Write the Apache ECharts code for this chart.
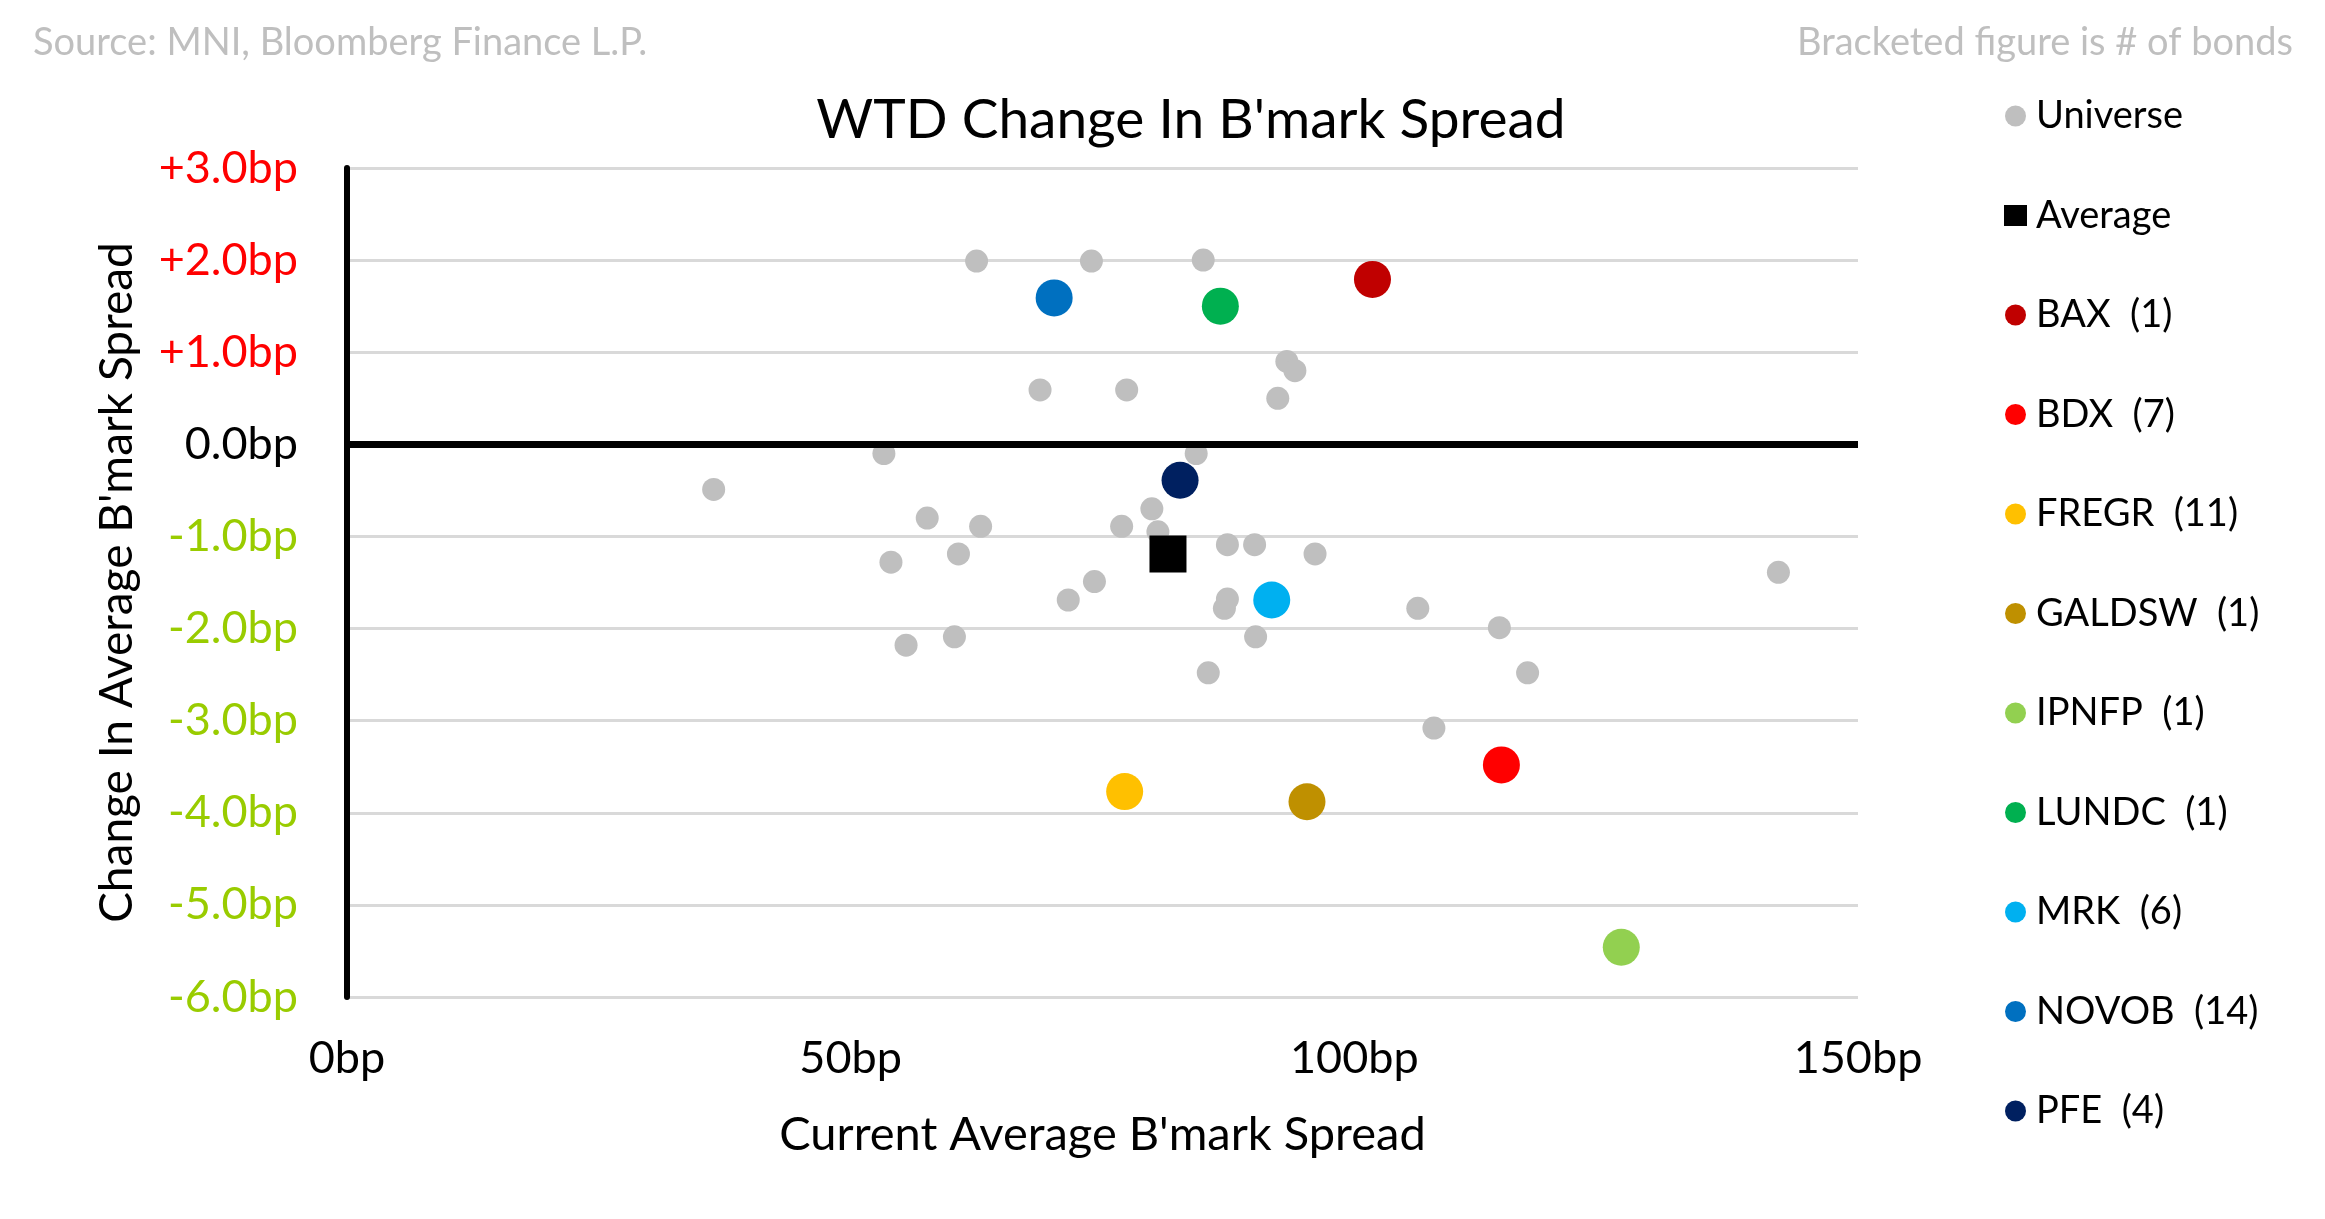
<!DOCTYPE html>
<html>
<head>
<meta charset="utf-8">
<script src="https://cdn.jsdelivr.net/npm/echarts@6/dist/echarts.min.js"></script>
<style>
html,body{margin:0;padding:0;background:#fff;}
#chart{width:2325px;height:1219px;}
</style>
</head>
<body>
<div id="chart"></div>
<script>
// ---- Data (x = current avg benchmark spread bp, y = WTD change bp) ----
const universe = [
  [36.4,-0.49],[53.3,-0.10],[54.0,-1.28],[55.5,-2.18],[57.6,-0.80],[60.3,-2.09],
  [60.7,-1.19],[62.5,1.99],[62.9,-0.89],[68.8,0.59],[71.6,-1.69],[73.9,1.99],
  [74.2,-1.49],[76.9,-0.89],[77.4,0.59],[79.9,-0.70],[80.5,-0.95],[84.3,-0.10],
  [85.0,2.00],[85.5,-2.48],[87.1,-1.78],[87.4,-1.68],[87.4,-1.09],[90.1,-1.09],
  [90.2,-2.09],[92.4,0.50],[93.3,0.90],[94.1,0.80],[96.1,-1.19],[106.3,-1.78],
  [107.9,-3.08],[114.4,-1.99],[117.2,-2.48],[142.1,-1.39]
];
const average = [[81.5,-1.19]];
const issuerNames = ['BAX  (1)','BDX  (7)','FREGR  (11)','GALDSW  (1)','IPNFP  (1)','LUNDC  (1)','MRK  (6)','NOVOB  (14)','PFE  (4)'];
const issuerPoints = [[101.8,1.79],[114.6,-3.48],[77.2,-3.77],[95.3,-3.88],[126.5,-5.46],[86.7,1.50],[91.8,-1.69],[70.2,1.59],[82.7,-0.39]];
const issuerColors = ['#c00000','#ff0000','#ffc000','#bf9000','#92d050','#00b050','#00b0f0','#0070c0','#002060'];
const xTicks = [0,50,100,150];
const yTicks = [-6,-5,-4,-3,-2,-1,0,1,2,3];

const FONT = 'Lato, "Open Sans", sans-serif';

const chart = echarts.init(document.getElementById('chart'));

const series = [
  {
    name: 'Universe', type: 'scatter', data: universe, symbol: 'circle', symbolSize: 23,
    itemStyle: {color: '#bfbfbf', opacity: 1}, z: 2,
    markLine: {
      silent: true, symbol: 'none', label: {show: false},
      lineStyle: {color: '#000', width: 7, type: 'solid'},
      emphasis: {disabled: true},
      data: [{yAxis: 0}]
    }
  },
  {
    name: 'Average', type: 'scatter', data: average, symbol: 'rect', symbolSize: 37,
    itemStyle: {color: '#000000', opacity: 1}, z: 3
  }
];
issuerNames.forEach((n, i) => {
  series.push({
    name: n, type: 'scatter', data: [issuerPoints[i]], symbol: 'circle', symbolSize: 37,
    itemStyle: {color: issuerColors[i], opacity: 1}, z: 4
  });
});

function yColor(v) {
  v = Number(v);
  if (v > 0) return '#ff0000';
  if (v < 0) return '#99cc00';
  return '#000000';
}

chart.setOption({
  backgroundColor: '#ffffff',
  animation: false,
  textStyle: {fontFamily: FONT},
  graphic: [
    {type: 'text', x: 1191, y: 120, style: {text: "WTD Change In B'mark Spread", textAlign: 'center', textVerticalAlign: 'middle',
      font: '55px ' + FONT, fill: '#000'}},
    {type: 'text', x: 33, y: 43, style: {text: 'Source: MNI, Bloomberg Finance L.P.', textAlign: 'left', textVerticalAlign: 'middle',
      font: '38px ' + FONT, fill: '#bfbfbf'}},
    {type: 'text', x: 2293, y: 43, style: {text: 'Bracketed figure is # of bonds', textAlign: 'right', textVerticalAlign: 'middle',
      font: '38px ' + FONT, fill: '#bfbfbf'}}
  ],
  legend: {
    orient: 'vertical', left: 1999, top: 91,
    itemWidth: 23, itemHeight: 21, itemGap: 59.5,
    textStyle: {fontFamily: FONT, fontSize: 38, color: '#000', lineHeight: 40, padding: [0, 0, 0, 4]},
    data: ['Universe', 'Average'].concat(issuerNames)
  },
  grid: {left: 347, right: 467, top: 168, bottom: 222, outerBoundsMode: 'none'},
  xAxis: {
    type: 'value', min: 0, max: 150, interval: 50,
    name: "Current Average B'mark Spread", nameLocation: 'middle', nameGap: 114,
    nameTextStyle: {fontFamily: FONT, fontSize: 47, color: '#000'},
    axisLine: {show: false}, axisTick: {show: false}, splitLine: {show: false},
    axisLabel: {fontFamily: FONT, fontSize: 45, color: '#000', margin: 39,
      formatter: v => (xTicks.indexOf(v) >= 0 ? v + 'bp' : '')}
  },
  yAxis: {
    type: 'value', min: -6, max: 3, interval: 1,
    name: "Change In Average B'mark Spread", nameLocation: 'middle', nameGap: 207,
    nameTextStyle: {fontFamily: FONT, fontSize: 46, color: '#000'},
    axisLine: {show: true, onZero: false, lineStyle: {color: '#000', width: 6}},
    axisTick: {show: false},
    splitLine: {show: true, lineStyle: {color: '#d9d9d9', width: 3}},
    axisLabel: {fontFamily: FONT, fontSize: 45, margin: 49,
      color: yColor,
      formatter: v => {
        if (yTicks.indexOf(v) < 0) return '';
        if (v > 0) return '+' + v.toFixed(1) + 'bp';
        if (v === 0) return '0.0bp';
        return v.toFixed(1) + 'bp';
      }}
  },
  series: series
});
</script>
</body>
</html>
